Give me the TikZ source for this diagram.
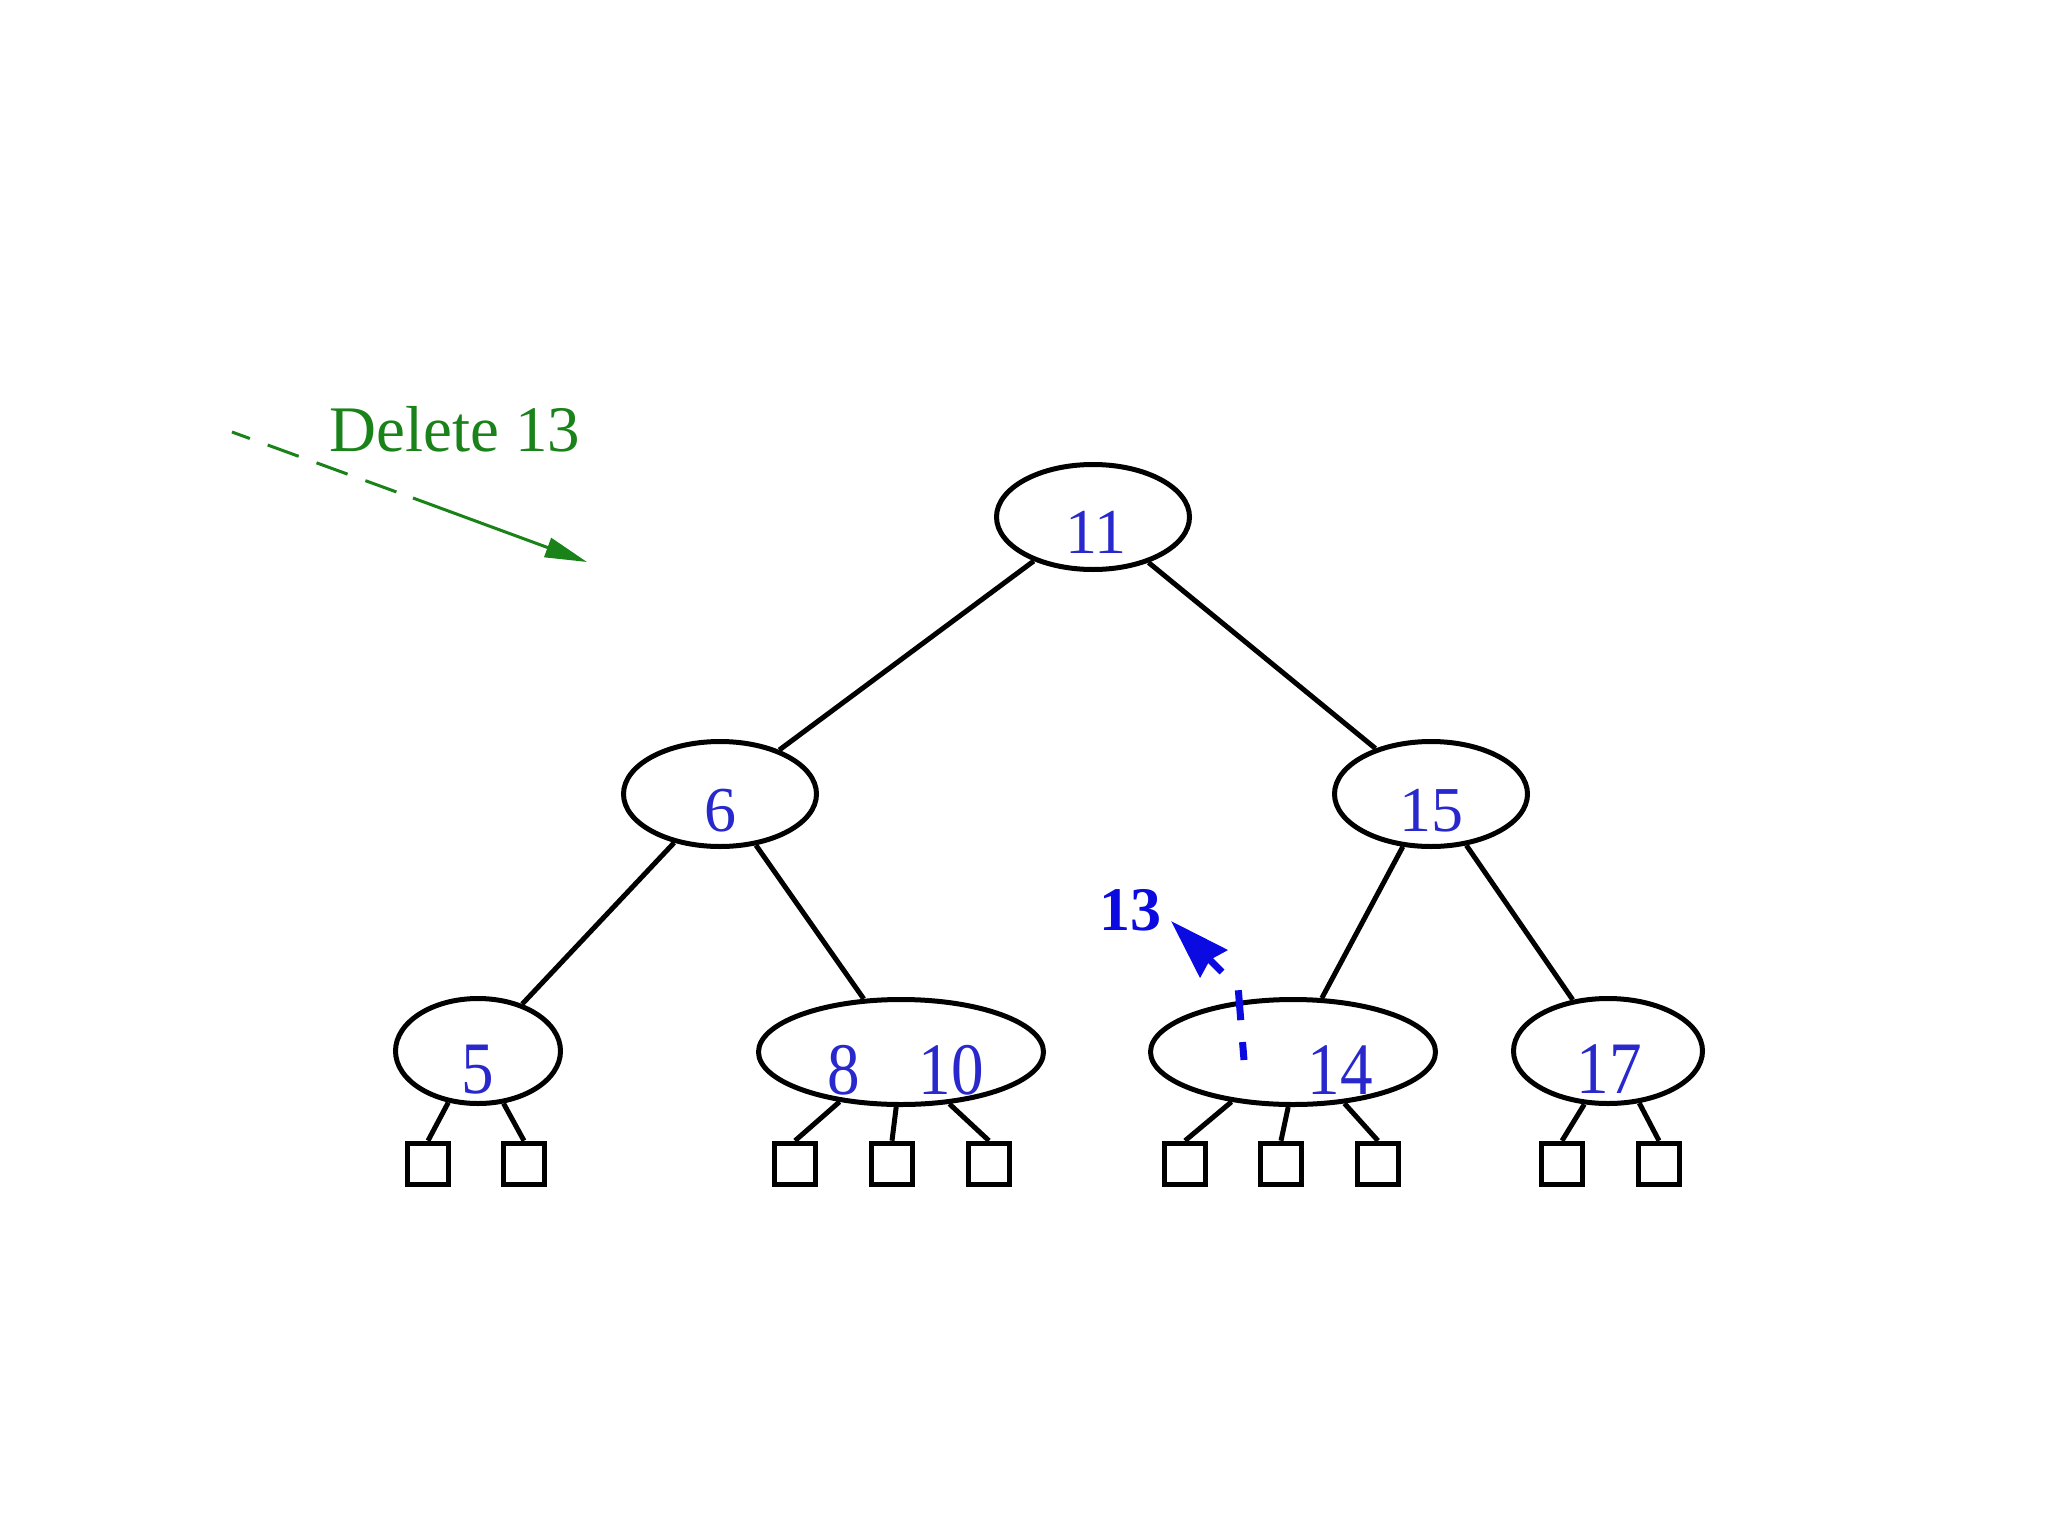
\documentclass[tikz,border=0pt]{standalone}
\usepackage{fontspec}
\setmainfont{Liberation Serif}
\usetikzlibrary{shapes.geometric,arrows.meta}
\definecolor{numblue}{RGB}{40,40,205}
\definecolor{boldblue}{RGB}{10,10,225}
\definecolor{delgreen}{RGB}{25,130,25}
\begin{document}
\begin{tikzpicture}[x=1pt,y=-1pt,
  tnode/.style={draw=black, line width=5pt, ellipse, inner sep=0pt, minimum width=193pt, minimum height=105pt},
  sq/.style={draw=black, line width=5.5pt, inner sep=0pt, minimum size=41pt},
  edge/.style={draw=black, line width=5pt},
  numtop/.style={text=numblue, inner sep=0pt, font=\fontsize{64}{70}\selectfont},
  numbot/.style={text=numblue, inner sep=0pt, xscale=0.88, font=\fontsize{74}{80}\selectfont}]
\fill[white] (0,0) rectangle (2048,1536);
\useasboundingbox (0,0) rectangle (2048,1536);
% tree nodes
\node[tnode] (n11) at (1093,517) {};
\node[tnode] (n6) at (720,794) {};
\node[tnode] (n15) at (1431,794) {};
\node[tnode, minimum width=165pt] (n5) at (478,1051) {};
\node[tnode, minimum width=285pt] (n810) at (901,1052) {};
\node[tnode, minimum width=285pt] (n14) at (1293,1052) {};
\node[tnode, minimum width=189pt] (n17) at (1608,1051) {};
% texts
\node[numtop] (t11) at (1096,532) {11};
\node[numtop] (t6) at (720,811) {6};
\node[numtop] (t15) at (1431,811) {15};
\node[numbot] (t5) at (478,1070) {5};
\node[numbot] (t8) at (844,1070) {8};
\node[numbot] (t10) at (951,1070) {10};
\node[numbot] (t14) at (1340,1070) {14};
\node[numbot] (t17) at (1609,1069) {17};
% internal edges
\draw[edge] (n11) -- (n6);
\draw[edge] (n11) -- (n15);
\draw[edge] (n6) -- (n5);
\draw[edge] (n6) -- (n810);
\draw[edge] (n15) -- (n14);
\draw[edge] (n15) -- (n17);
% leaves
\node[sq] (l1) at (428,1164) {};
\node[sq] (l2) at (524,1164) {};
\node[sq] (l3) at (795,1164) {};
\node[sq] (l4) at (892,1164) {};
\node[sq] (l5) at (989,1164) {};
\node[sq] (l6) at (1185,1164) {};
\node[sq] (l7) at (1281,1164) {};
\node[sq] (l8) at (1378,1164) {};
\node[sq] (l9) at (1562,1164) {};
\node[sq] (l10) at (1659,1164) {};
\draw[edge] (n5.-120) -- (l1.north);
\draw[edge] (n5.-64) -- (l2.north);
\draw[edge] (n810.-141) -- (l3.north);
\draw[edge] (n810.-95) -- (l4.north);
\draw[edge] (n810.-47) -- (l5.north);
\draw[edge] (n14.-141) -- (l6.north);
\draw[edge] (n14.-95) -- (l7.north);
\draw[edge] (n14.-45) -- (l8.north);
\draw[edge] (n17.-114) -- (l9.north);
\draw[edge] (n17.-59) -- (l10.north);
% delete 13 annotation
\node[text=delgreen, inner sep=0pt, font=\fontsize{65}{70}\selectfont] (del) at (455,429) {Delete 13};
\coordinate (g0) at (232,432);
\coordinate (g1) at (413,498);
\coordinate (g2) at (587,562);
\draw[delgreen, line width=3pt, dash pattern=on 33pt off 19pt, dash phase=14pt] (g0) -- (g1);
\draw[delgreen, line width=3pt, -{Triangle[length=42pt,width=20pt]}] (g1) -- (g2);
% removed key 13
\node[text=boldblue, inner sep=0pt, font=\fontsize{62}{68}\selectfont\bfseries] (k13) at (1130,910) {13};
\coordinate (b0) at (1244,1060);
\coordinate (b1) at (1238,986);
\coordinate (b2) at (1222,972);
\coordinate (b3) at (1171,921);
\draw[boldblue, line width=7pt, dash pattern=on 30pt off 22pt, dash phase=12pt] (b0) -- (b1);
\draw[boldblue, line width=7pt, -{Stealth[length=60pt,width=38pt,inset=5pt]}] (b2) -- (b3);
\end{tikzpicture}
\end{document}
